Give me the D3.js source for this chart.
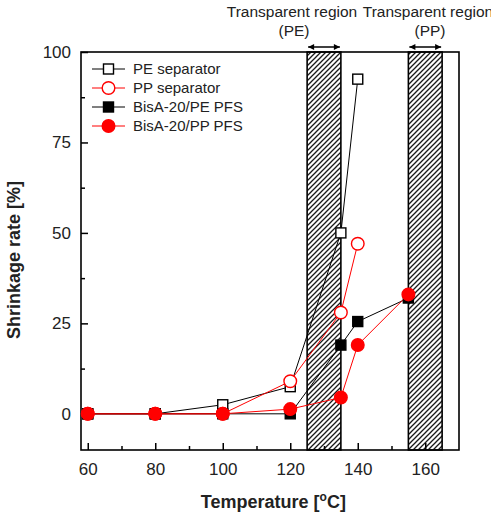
<!DOCTYPE html>
<html>
<head>
<meta charset="utf-8">
<script src="https://cdn.jsdelivr.net/npm/d3@7"></script>
<style>
  body { margin: 0; background: #fff; }
  svg { font-family: "Liberation Sans", Arial, sans-serif; }
</style>
</head>
<body>
<svg width="491" height="512"></svg>
<script>
// series data
const peSepT = [60, 80, 100, 120, 135, 140];
const peSepV = [0, 0, 2.5, 7.5, 50, 92.5];
const ppSepT = [60, 80, 100, 120, 135, 140];
const ppSepV = [0, 0, 0, 9, 28, 47];
const bisPeT = [60, 80, 100, 120, 135, 140, 155];
const bisPeV = [0, 0, 0, 0, 19, 25.5, 32];
const bisPpT = [60, 80, 100, 120, 135, 140, 155];
const bisPpV = [0, 0, 0, 1.3, 4.5, 19, 33];

const seriesNames = ['PE separator', 'PP separator', 'BisA-20/PE PFS', 'BisA-20/PP PFS'];
const regions = [[125, 135], [155, 165]];
const regionLabels = ['(PE)', '(PP)'];
const xTicks = [60, 80, 100, 120, 140, 160];
const yTicks = [0, 25, 50, 75, 100];

(function (d3) {
  'use strict';

  const svg = d3.select('svg');
  const margin = { left: 81, top: 52, right: 32, bottom: 62 };
  const width = +svg.attr('width');
  const height = +svg.attr('height');
  const innerWidth = width - margin.left - margin.right;
  const innerHeight = height - margin.top - margin.bottom;

  const x = d3.scaleLinear().domain([58, 170]).range([0, innerWidth]);
  const y = d3.scaleLinear().domain([-10, 100]).range([innerHeight, 0]);

  const defs = svg.append('defs');
  const pat = defs.append('pattern')
    .attr('id', 'hatch')
    .attr('patternUnits', 'userSpaceOnUse')
    .attr('width', 5).attr('height', 5);
  pat.append('rect').attr('width', 5).attr('height', 5).attr('fill', '#fff');
  pat.append('path')
    .attr('d', 'M-1,1 l2,-2 M0,5 l5,-5 M4,6 l2,-2')
    .attr('stroke', '#1a1a1a').attr('stroke-width', 1.3);

  const marker = defs.append('marker')
    .attr('id', 'ah')
    .attr('viewBox', '0 0 10 10')
    .attr('refX', 10).attr('refY', 5)
    .attr('markerWidth', 9).attr('markerHeight', 6)
    .attr('markerUnits', 'userSpaceOnUse')
    .attr('orient', 'auto-start-reverse');
  marker.append('path').attr('d', 'M0,0 L10,5 L0,10 z').attr('fill', '#000');

  const g = svg.append('g')
    .attr('transform', `translate(${margin.left},${margin.top})`);

  // hatched transparent regions
  g.selectAll('.region').data(regions).enter().append('rect')
    .attr('class', 'region')
    .attr('x', d => x(d[0]))
    .attr('y', 0)
    .attr('width', d => x(d[1]) - x(d[0]))
    .attr('height', innerHeight)
    .attr('fill', 'url(#hatch)')
    .attr('stroke', '#000')
    .attr('stroke-width', 1.6);

  // axes
  const xAxis = d3.axisBottom(x).tickValues(xTicks).tickSize(-7).tickPadding(13);
  const yAxis = d3.axisLeft(y).tickValues(yTicks).tickSize(-7).tickPadding(10);

  const xG = g.append('g').attr('transform', `translate(0,${innerHeight})`).call(xAxis);
  const yG = g.append('g').call(yAxis);
  [xG, yG].forEach(a => {
    a.select('.domain').remove();
    a.selectAll('line').attr('stroke', '#000').attr('stroke-width', 1.5);
    a.selectAll('text').attr('font-size', 17).attr('fill', '#222');
  });

  const xMinor = d3.axisBottom(x).tickValues([70, 90, 110, 130, 150]).tickSize(-4).tickFormat('');
  const yMinor = d3.axisLeft(y).tickValues([12.5, 37.5, 62.5, 87.5]).tickSize(-4).tickFormat('');
  g.append('g').attr('transform', `translate(0,${innerHeight})`).call(xMinor)
    .call(s => s.select('.domain').remove())
    .selectAll('line').attr('stroke', '#000').attr('stroke-width', 1.5);
  g.append('g').call(yMinor)
    .call(s => s.select('.domain').remove())
    .selectAll('line').attr('stroke', '#000').attr('stroke-width', 1.5);

  g.append('rect')
    .attr('width', innerWidth).attr('height', innerHeight)
    .attr('fill', 'none').attr('stroke', '#000').attr('stroke-width', 1.6);

  // series
  const series = [
    { name: seriesNames[0], t: peSepT, v: peSepV, color: '#000', shape: 'square', filled: false },
    { name: seriesNames[1], t: ppSepT, v: ppSepV, color: '#f00', shape: 'circle', filled: false },
    { name: seriesNames[2], t: bisPeT, v: bisPeV, color: '#000', shape: 'square', filled: true },
    { name: seriesNames[3], t: bisPpT, v: bisPpV, color: '#f00', shape: 'circle', filled: true }
  ];

  const line = d3.line().x(d => x(d[0])).y(d => y(d[1]));

  const drawMarker = (sel, s) => {
    if (s.shape === 'square') {
      sel.append('rect')
        .attr('x', -5).attr('y', -5).attr('width', 10).attr('height', 10);
    } else {
      sel.append('circle').attr('r', 6.3);
    }
    sel.selectAll('rect,circle')
      .attr('fill', s.filled ? s.color : '#fff')
      .attr('stroke', s.color)
      .attr('stroke-width', 1.4);
  };

  series.forEach(s => {
    const pts = s.t.map((t, i) => [t, s.v[i]]);
    g.append('path')
      .attr('d', line(pts))
      .attr('fill', 'none')
      .attr('stroke', s.color)
      .attr('stroke-width', 1);
  });
  series.forEach(s => {
    const pts = s.t.map((t, i) => [t, s.v[i]]);
    g.selectAll(null).data(pts).enter().append('g')
      .attr('transform', d => `translate(${x(d[0])},${y(d[1])})`)
      .each(function () { drawMarker(d3.select(this), s); });
  });

  // legend
  const legend = g.selectAll('.legend').data(series).enter().append('g')
    .attr('class', 'legend')
    .attr('transform', (d, i) => `translate(11, ${17 + i * 19})`);
  legend.append('line')
    .attr('x1', 0).attr('x2', 33)
    .attr('stroke', d => d.color).attr('stroke-width', 1);
  legend.each(function (d) {
    const m = d3.select(this).append('g').attr('transform', 'translate(16.5,0)');
    drawMarker(m, d);
  });
  legend.append('text')
    .attr('x', 41)
    .attr('dy', '.35em')
    .attr('font-size', 15)
    .attr('fill', '#222')
    .text(d => d.name);

  // transparent region annotations
  const ann = [292, 428];
  ann.forEach((cx, i) => {
    svg.append('text')
      .attr('x', cx).attr('y', 17)
      .attr('text-anchor', 'middle')
      .attr('font-size', 15.5)
      .attr('fill', '#222')
      .text('Transparent region');
    svg.append('text')
      .attr('x', cx + 2).attr('y', 36)
      .attr('text-anchor', 'middle')
      .attr('font-size', 15.5)
      .attr('fill', '#222')
      .text(regionLabels[i]);
  });
  regions.forEach(r => {
    g.append('line')
      .attr('x1', x(r[0]) + 1).attr('x2', x(r[1]) - 1)
      .attr('y1', -5).attr('y2', -5)
      .attr('stroke', '#000').attr('stroke-width', 1.5)
      .attr('marker-start', 'url(#ah)')
      .attr('marker-end', 'url(#ah)');
  });

  // axis titles
  const xt = svg.append('text')
    .attr('x', margin.left + x(115)).attr('y', 508)
    .attr('text-anchor', 'middle')
    .attr('font-size', 18).attr('font-weight', 'bold')
    .attr('fill', '#222');
  xt.append('tspan').text('Temperature [');
  xt.append('tspan').attr('font-size', 12).attr('dy', -7).text('o');
  xt.append('tspan').attr('dy', 7).text('C]');

  svg.append('text')
    .attr('transform', 'translate(20,260) rotate(-90)')
    .attr('text-anchor', 'middle')
    .attr('font-size', 18).attr('font-weight', 'bold')
    .attr('fill', '#222')
    .text('Shrinkage rate [%]');
}(d3));
</script>
</body>
</html>
